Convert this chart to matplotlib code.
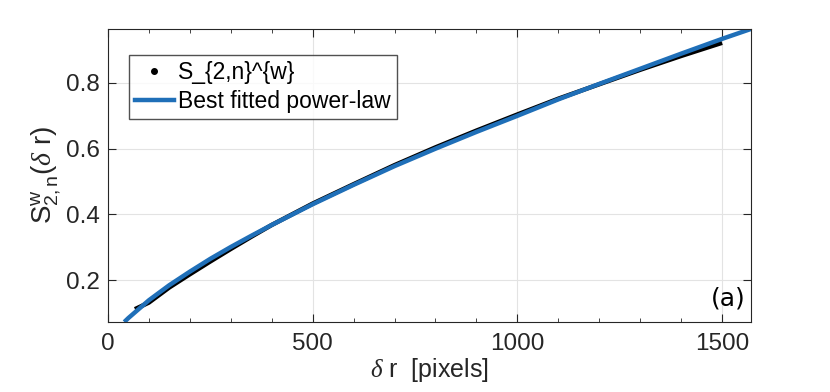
import matplotlib
matplotlib.use("Agg")
import matplotlib.pyplot as plt
from matplotlib.lines import Line2D
from matplotlib.ticker import MultipleLocator

plt.rcParams['font.family'] = ['Liberation Sans', 'DejaVu Sans']
plt.rcParams['mathtext.fontset'] = 'custom'
plt.rcParams['mathtext.rm'] = 'Liberation Sans'
plt.rcParams['mathtext.it'] = 'Liberation Serif:italic'

# measured structure function (black dots)
dr_data = [66, 100, 150, 200, 250, 300, 350, 400, 500, 600, 700, 800,
           900, 1000, 1100, 1200, 1300, 1400, 1500]
s_data = [0.112, 0.132, 0.178, 0.218, 0.257, 0.295, 0.332, 0.368, 0.433,
          0.492, 0.550, 0.604, 0.655, 0.704, 0.752, 0.796, 0.840, 0.882, 0.922]

# best fitted power-law (blue)
dr_fit = [40, 50, 100, 150, 200, 250, 300, 350, 400, 500, 600, 700, 800,
          900, 1000, 1100, 1200, 1300, 1400, 1500, 1570]
s_fit = [0.073, 0.085, 0.139, 0.185, 0.226, 0.265, 0.301, 0.335, 0.368,
         0.431, 0.490, 0.547, 0.600, 0.651, 0.700, 0.750, 0.797, 0.843,
         0.889, 0.934, 0.964]

xticks = [0, 500, 1000, 1500]
yticks = [0.2, 0.4, 0.6, 0.8]

fig = plt.figure(figsize=(8.3, 3.92), dpi=100)
ax = fig.add_axes([0.130, 0.1786, 0.775, 0.7474])

ax.plot(dr_data, s_data, color='black', lw=3.2, solid_capstyle='butt')
ax.plot(dr_fit, s_fit, color='#1f6fb8', lw=3.2, solid_capstyle='butt')

ax.set_xlim(0, 1571)
ax.set_ylim(0.073, 0.964)
ax.set_xticks(xticks)
ax.set_yticks(yticks)
ax.xaxis.set_minor_locator(MultipleLocator(100))
ax.grid(True, which='major', color='#e3e3e3', lw=0.8)
ax.set_axisbelow(True)

for sp in ax.spines.values():
    sp.set_color('#262626')
    sp.set_linewidth(0.8)
ax.tick_params(which='both', direction='in', top=True, right=True,
               colors='#262626', labelcolor='#262626', labelsize=17.5)
ax.tick_params(which='major', length=6)
ax.tick_params(which='minor', length=3)
ax.tick_params(axis='x', pad=8)
ax.tick_params(axis='y', pad=6)

ax.set_xlabel(r'$\delta$ r  [pixels]', fontsize=18, color='#262626', labelpad=1)
ax.set_ylabel(r'S$^{\mathrm{w}}_{2,\mathrm{n}}$($\delta$ r)', fontsize=20,
              color='#262626', labelpad=2)

handles = [Line2D([], [], color='black', marker='.', ls='none', markersize=8),
           Line2D([], [], color='#1f6fb8', lw=3.2)]
ax.legend(handles, ['S_{2,n}^{w}', 'Best fitted power-law'],
          loc='upper left', bbox_to_anchor=(0.033, 0.91), fontsize=16.5,
          frameon=True, fancybox=False, edgecolor='#262626',
          handlelength=1.7, handletextpad=0.2, borderpad=0.25,
          labelspacing=0.25, borderaxespad=0.0)

ax.text(0.992, 0.04, '(a)', transform=ax.transAxes, ha='right', va='bottom',
        fontsize=18, family='DejaVu Sans', color='black')

fig.savefig('out.png', dpi=100)
